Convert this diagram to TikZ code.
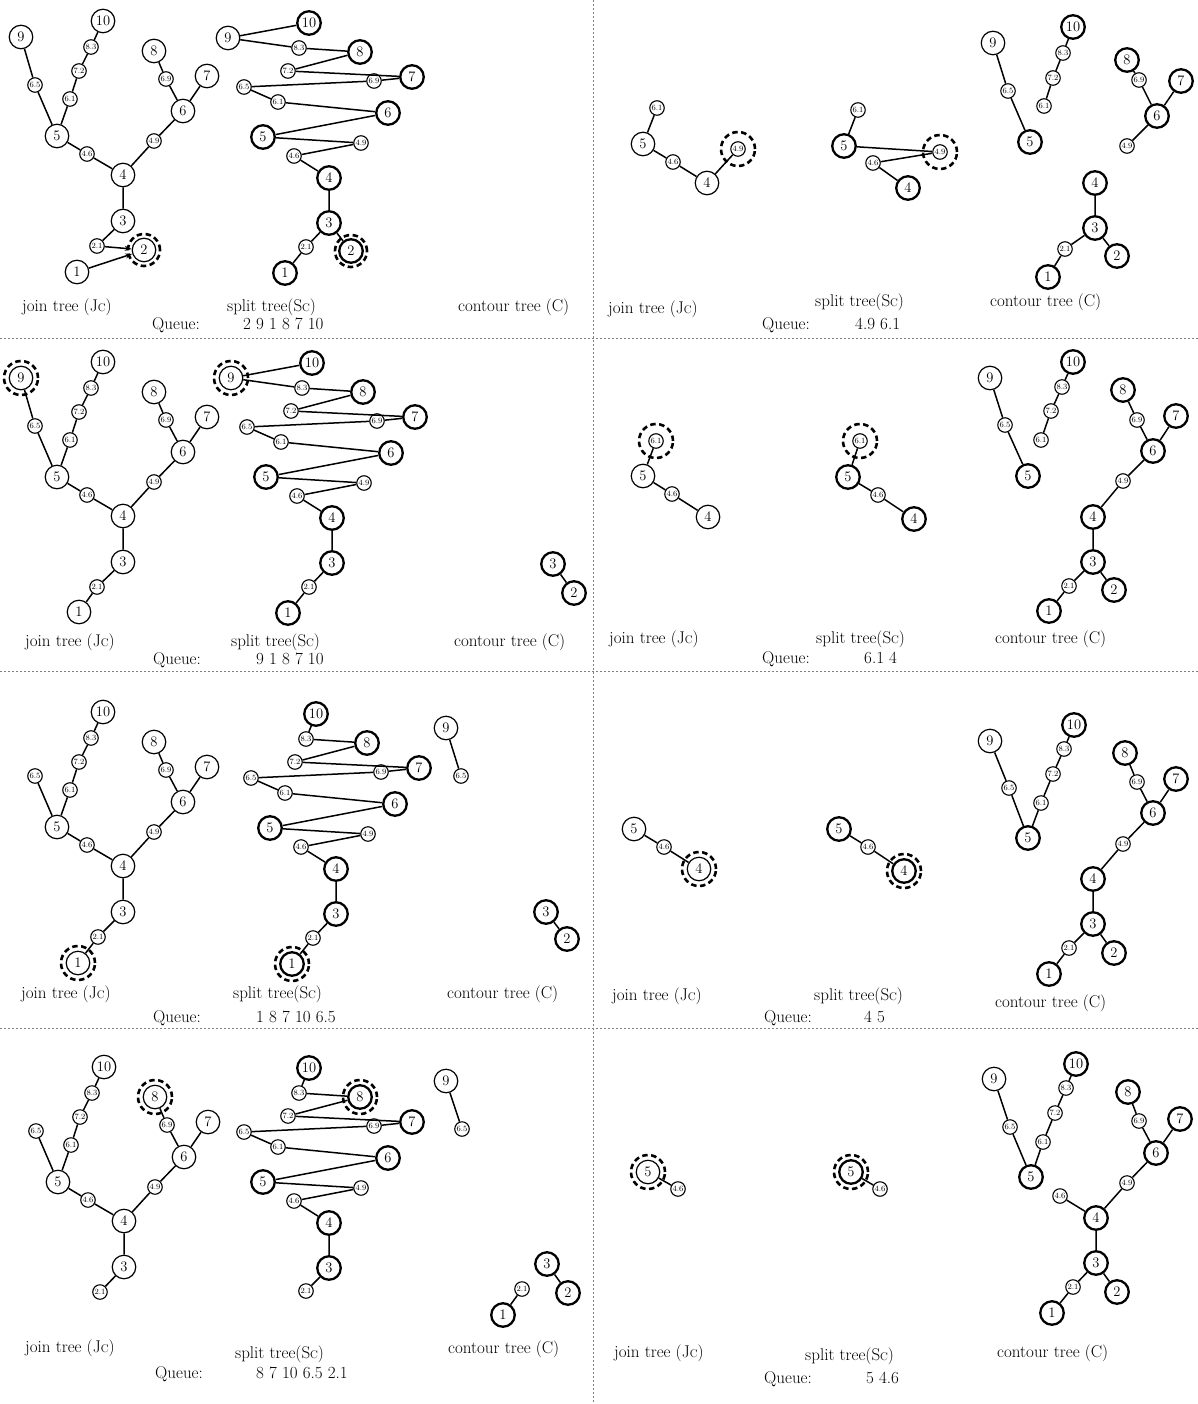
\documentclass[tikz,border=0pt]{standalone}
\usepackage{fontspec}
\usetikzlibrary{arrows.meta}
\tikzset{
 jn/.style={circle,draw,line width=1.2pt,minimum size=23.5pt,inner sep=0pt,font=\fontsize{14.5}{14.5}\selectfont},
 sn/.style={jn,line width=2.3pt},
 sm/.style={circle,draw,line width=1.1pt,minimum size=14.5pt,inner sep=0pt,font=\fontsize{8}{8}\selectfont},
 ln/.style={line width=1.5pt},
 arr/.style={-{Stealth[length=7pt,width=5pt]}},
 ring/.style={line width=2.6pt,dash pattern=on 5.5pt off 3.5pt},
 lab/.style={anchor=base west,inner sep=0pt,font=\fontsize{17}{20}\selectfont},
 sep/.style={draw=gray,line width=0.8pt,dash pattern=on 2pt off 2pt}
}
\newcommand\jcl{(J{\fontsize{11}{11}\selectfont C})}
\newcommand\scl{(S{\fontsize{11}{11}\selectfont C})}
\begin{document}
\begin{tikzpicture}[x=1pt,y=-1pt]
\useasboundingbox (0,0) rectangle (1198,1404);
\fill[white] (0,0) rectangle (1198,1404);
% separators
\draw[sep] (593,0) -- (593,1404);
\draw[sep] (0,338) -- (1198,338);
\draw[sep] (0,671) -- (1198,671);
\draw[sep] (0,1028) -- (1198,1028);

%================ L1 =================
\node[jn] (a9) at (21,37) {9};
\node[jn] (a10) at (103,21) {10};
\node[sm] (a83) at (91,47) {8.3};
\node[sm] (a72) at (79,71) {7.2};
\node[sm] (a65) at (35,85) {6.5};
\node[sm] (a61) at (70,99) {6.1};
\node[jn] (a8) at (154,51) {8};
\node[sm] (a69) at (166,79) {6.9};
\node[jn] (a7) at (207,76) {7};
\node[jn] (a6) at (183,111) {6};
\node[jn] (a5) at (57,136) {5};
\node[sm] (a46) at (87,154) {4.6};
\node[sm] (a49) at (154,141) {4.9};
\node[jn] (a4) at (123,175) {4};
\node[jn] (a3) at (123,221) {3};
\node[sm] (a21) at (97,246) {2.1};
\node[jn] (a2) at (144,250) {2};
\node[jn] (a1) at (77,272) {1};
\draw[ln] (a9)--(a65)--(a5) (a10)--(a83)--(a72)--(a61)--(a5) (a8)--(a69)--(a6) (a7)--(a6)--(a49)--(a4) (a5)--(a46)--(a4) (a4)--(a3)--(a21);
\draw[ln,arr] (a21)--(a2);
\draw[ln,arr] (a1)--(a2);
\draw[ring] (a2) circle[radius=16pt];

\node[sn] (b10) at (309,23) {10};
\node[jn] (b9) at (228,38) {9};
\node[sm] (b83) at (299,48) {8.3};
\node[sn] (b8) at (360,52) {8};
\node[sm] (b72) at (288,71) {7.2};
\node[sn] (b7) at (412,77) {7};
\node[sm] (b69) at (374,81) {6.9};
\node[sm] (b65) at (244,87) {6.5};
\node[sm] (b61) at (278,102) {6.1};
\node[sn] (b6) at (388,113) {6};
\node[sn] (b5) at (263,137) {5};
\node[sm] (b49) at (361,143) {4.9};
\node[sm] (b46) at (294,156) {4.6};
\node[sn] (b4) at (329,178) {4};
\node[sn] (b3) at (329,223) {3};
\node[sm] (b21) at (306,247) {2.1};
\node[sn] (b2) at (351,251) {2};
\node[sn] (b1) at (285,273) {1};
\draw[ln] (b9)--(b10) (b9)--(b83)--(b8)--(b72)--(b7)--(b69)--(b65)--(b61)--(b6)--(b5)--(b49)--(b46)--(b4)--(b3)--(b21)--(b1) (b3)--(b2);
\draw[ring] (b2) circle[radius=16pt];

\node[lab] (l1j) at (22,312) {join tree \jcl};
\node[lab] (l1s) at (227,312) {split tree\scl};
\node[lab] (l1c) at (458,312) {contour tree (C)};
\node[lab] (l1q) at (152,330) {Queue:};
\node[lab] (l1v) at (243,330) {2 9 1 8 7 10};

%================ L2 =================
\begin{scope}[yshift=-341pt]
\node[jn] (c9) at (21,37) {9};
\node[jn] (c10) at (103,21) {10};
\node[sm] (c83) at (91,47) {8.3};
\node[sm] (c72) at (79,71) {7.2};
\node[sm] (c65) at (35,85) {6.5};
\node[sm] (c61) at (70,99) {6.1};
\node[jn] (c8) at (154,51) {8};
\node[sm] (c69) at (166,79) {6.9};
\node[jn] (c7) at (207,76) {7};
\node[jn] (c6) at (183,111) {6};
\node[jn] (c5) at (57,136) {5};
\node[sm] (c46) at (87,154) {4.6};
\node[sm] (c49) at (154,141) {4.9};
\node[jn] (c4) at (123,175) {4};
\node[jn] (c3) at (123,221) {3};
\node[sm] (c21) at (97,246) {2.1};
\node[jn] (c1) at (79,271) {1};
\draw[ln] (c9)--(c65)--(c5) (c10)--(c83)--(c72)--(c61)--(c5) (c8)--(c69)--(c6) (c7)--(c6)--(c49)--(c4) (c5)--(c46)--(c4) (c4)--(c3)--(c21)--(c1);
\draw[ring] (c9) circle[radius=17pt];
\end{scope}
\begin{scope}[xshift=3pt,yshift=-340pt]
\node[sn] (d10) at (309,23) {10};
\node[jn] (d9) at (228,38) {9};
\node[sm] (d83) at (299,48) {8.3};
\node[sn] (d8) at (360,52) {8};
\node[sm] (d72) at (288,71) {7.2};
\node[sn] (d7) at (412,77) {7};
\node[sm] (d69) at (374,81) {6.9};
\node[sm] (d65) at (244,87) {6.5};
\node[sm] (d61) at (278,102) {6.1};
\node[sn] (d6) at (388,113) {6};
\node[sn] (d5) at (263,137) {5};
\node[sm] (d49) at (361,143) {4.9};
\node[sm] (d46) at (294,156) {4.6};
\node[sn] (d4) at (329,178) {4};
\node[sn] (d3) at (329,223) {3};
\node[sm] (d21) at (306,247) {2.1};
\node[sn] (d1) at (285,273) {1};
\draw[ln] (d9)--(d10) (d9)--(d83)--(d8)--(d72)--(d7)--(d69)--(d65)--(d61)--(d6)--(d5)--(d49)--(d46)--(d4)--(d3)--(d21)--(d1);
\draw[ring] (d9) circle[radius=17pt];
\end{scope}
\node[sn] (dc3) at (553,564) {3};
\node[sn] (dc2) at (574,593) {2};
\draw[ln] (dc3)--(dc2);
\node[lab] (l2j) at (25,646) {join tree \jcl};
\node[lab] (l2s) at (231,646) {split tree\scl};
\node[lab] (l2c) at (454,646) {contour tree (C)};
\node[lab] (l2q) at (153,664) {Queue:};
\node[lab] (l2v) at (256,664) {9 1 8 7 10};

%================ L3 =================
\begin{scope}[yshift=-691pt]
\node[jn] (e10) at (103,21) {10};
\node[sm] (e83) at (91,47) {8.3};
\node[sm] (e72) at (79,71) {7.2};
\node[sm] (e65) at (35,85) {6.5};
\node[sm] (e61) at (70,99) {6.1};
\node[jn] (e8) at (154,51) {8};
\node[sm] (e69) at (166,79) {6.9};
\node[jn] (e7) at (207,76) {7};
\node[jn] (e6) at (183,111) {6};
\node[jn] (e5) at (57,136) {5};
\node[sm] (e46) at (87,154) {4.6};
\node[sm] (e49) at (154,141) {4.9};
\node[jn] (e4) at (123,175) {4};
\node[jn] (e3) at (123,221) {3};
\node[sm] (e21) at (98,246) {2.1};
\node[jn] (e1) at (78,272) {1};
\draw[ln] (e65)--(e5) (e10)--(e83)--(e72)--(e61)--(e5) (e8)--(e69)--(e6) (e7)--(e6)--(e49)--(e4) (e5)--(e46)--(e4) (e4)--(e3)--(e21)--(e1);
\draw[ring] (e1) circle[radius=17pt];
\end{scope}
\begin{scope}[xshift=7pt,yshift=-691pt]
\node[sn] (f10) at (309,23) {10};
\node[sm] (f83) at (299,48) {8.3};
\node[sn] (f8) at (360,52) {8};
\node[sm] (f72) at (288,71) {7.2};
\node[sn] (f7) at (412,77) {7};
\node[sm] (f69) at (374,81) {6.9};
\node[sm] (f65) at (244,87) {6.5};
\node[sm] (f61) at (278,102) {6.1};
\node[sn] (f6) at (388,113) {6};
\node[sn] (f5) at (263,137) {5};
\node[sm] (f49) at (361,143) {4.9};
\node[sm] (f46) at (294,156) {4.6};
\node[sn] (f4) at (329,178) {4};
\node[sn] (f3) at (329,223) {3};
\node[sm] (f21) at (306,247) {2.1};
\node[sn] (f1) at (285,273) {1};
\draw[ln] (f10)--(f83)--(f8)--(f72)--(f7)--(f69)--(f65)--(f61)--(f6)--(f5)--(f49)--(f46)--(f4)--(f3)--(f21)--(f1);
\draw[ring] (f1) circle[radius=17pt];
\end{scope}
\node[jn] (fc9) at (446,728) {9};
\node[sm] (fc65) at (461,776) {6.5};
\node[sn] (fc3) at (546,912) {3};
\node[sn] (fc2) at (567,939) {2};
\draw[ln] (fc9)--(fc65) (fc3)--(fc2);
\node[lab] (l3j) at (21,998) {join tree \jcl};
\node[lab] (l3s) at (233,998) {split tree\scl};
\node[lab] (l3c) at (447,998) {contour tree (C)};
\node[lab] (l3q) at (153,1022) {Queue:};
\node[lab] (l3v) at (256,1022) {1 8 7 10 6.5};

%================ L4 =================
\begin{scope}[xshift=1pt,yshift=-1046pt]
\node[jn] (g10) at (103,21) {10};
\node[sm] (g83) at (91,47) {8.3};
\node[sm] (g72) at (79,71) {7.2};
\node[sm] (g65) at (35,85) {6.5};
\node[sm] (g61) at (70,99) {6.1};
\node[jn] (g8) at (154,51) {8};
\node[sm] (g69) at (166,79) {6.9};
\node[jn] (g7) at (207,76) {7};
\node[jn] (g6) at (183,111) {6};
\node[jn] (g5) at (57,136) {5};
\node[sm] (g46) at (87,154) {4.6};
\node[sm] (g49) at (154,141) {4.9};
\node[jn] (g4) at (123,175) {4};
\node[jn] (g3) at (123,221) {3};
\node[sm] (g21) at (99,246) {2.1};
\draw[ln] (g65)--(g5) (g10)--(g83)--(g72)--(g61)--(g5) (g8)--(g69)--(g6) (g7)--(g6)--(g49)--(g4) (g5)--(g46)--(g4) (g4)--(g3)--(g21);
\draw[ring] (g8) circle[radius=17pt];
\end{scope}
\begin{scope}[yshift=-1045pt]
\node[sn] (h10) at (309,23) {10};
\node[sm] (h83) at (299,48) {8.3};
\node[sn] (h8) at (360,52) {8};
\node[sm] (h72) at (288,71) {7.2};
\node[sn] (h7) at (412,77) {7};
\node[sm] (h69) at (374,81) {6.9};
\node[sm] (h65) at (244,87) {6.5};
\node[sm] (h61) at (278,102) {6.1};
\node[sn] (h6) at (388,113) {6};
\node[sn] (h5) at (263,137) {5};
\node[sm] (h49) at (361,143) {4.9};
\node[sm] (h46) at (294,156) {4.6};
\node[sn] (h4) at (329,178) {4};
\node[sn] (h3) at (329,223) {3};
\node[sm] (h21) at (306,246) {2.1};
\draw[ln] (h10)--(h83)--(h8)--(h72)--(h7)--(h69)--(h65)--(h61)--(h6)--(h5)--(h49)--(h46)--(h4)--(h3)--(h21);
\draw[ring] (h8) circle[radius=17pt];
\end{scope}
\node[jn] (hc9) at (446,1081) {9};
\node[sm] (hc65) at (462,1129) {6.5};
\node[sn] (hc3) at (547,1264) {3};
\node[sn] (hc2) at (568,1293) {2};
\node[sm] (hc21) at (522,1289) {2.1};
\node[sn] (hc1) at (503,1315) {1};
\draw[ln] (hc9)--(hc65) (hc3)--(hc2) (hc21)--(hc1);
\node[lab] (l4j) at (25,1352) {join tree \jcl};
\node[lab] (l4s) at (235,1358) {split tree\scl};
\node[lab] (l4c) at (448,1353) {contour tree (C)};
\node[lab] (l4q) at (155,1378) {Queue:};
\node[lab] (l4v) at (256,1378) {8 7 10 6.5 2.1};

%================ R1 =================
\node[sm] (p61) at (657,108) {6.1};
\node[jn] (p5) at (643,144) {5};
\node[sm] (p46) at (673,162) {4.6};
\node[jn] (p4) at (707,183) {4};
\node[sm] (p49) at (738,149) {4.9};
\draw[ln] (p61)--(p5)--(p46)--(p4)--(p49);
\draw[ring] (p49) circle[radius=17pt];

\node[sm] (q61) at (858,110) {6.1};
\node[sn] (q5) at (844,146) {5};
\node[sm] (q46) at (873,163) {4.6};
\node[sn] (q4) at (908,188) {4};
\node[sm] (q49) at (940,152) {4.9};
\draw[ln] (q61)--(q5)--(q49)--(q46)--(q4);
\draw[ring] (q49) circle[radius=17pt];

\node[jn] (qc9) at (993,43) {9};
\node[sm] (qc65) at (1008,91) {6.5};
\node[sn] (qc5) at (1030,142) {5};
\node[sn] (qc10) at (1073,27) {10};
\node[sm] (qc83) at (1063,53) {8.3};
\node[sm] (qc72) at (1053,78) {7.2};
\node[sm] (qc61) at (1044,106) {6.1};
\node[sn] (qc8) at (1127,60) {8};
\node[sm] (qc69) at (1139,80) {6.9};
\node[sn] (qc7) at (1181,81) {7};
\node[sn] (qc6) at (1157,116) {6};
\node[sm] (qc49) at (1127,146) {4.9};
\node[sn] (qc4) at (1095,183) {4};
\node[sn] (qc3) at (1095,228) {3};
\node[sm] (qc21) at (1065,249) {2.1};
\node[sn] (qc2) at (1117,256) {2};
\node[sn] (qc1) at (1048,277) {1};
\draw[ln] (qc9)--(qc65)--(qc5) (qc10)--(qc83)--(qc72)--(qc61) (qc8)--(qc69)--(qc6) (qc7)--(qc6)--(qc49) (qc4)--(qc3)--(qc21)--(qc1) (qc3)--(qc2);
\node[lab] (r1j) at (608,313) {join tree \jcl};
\node[lab] (r1s) at (815,307) {split tree\scl};
\node[lab] (r1c) at (990,307) {contour tree (C)};
\node[lab] (r1q) at (762,330) {Queue:};
\node[lab] (r1v) at (855,330) {4.9 6.1};

%================ R2 =================
\node[sm] (r61) at (656,441) {6.1};
\node[jn] (r5) at (643,476) {5};
\node[sm] (r46) at (672,494) {4.6};
\node[jn] (r4) at (708,517) {4};
\draw[ln] (r61)--(r5)--(r46)--(r4);
\draw[ring] (r61) circle[radius=17pt];

\node[sm] (s61) at (860,441) {6.1};
\node[sn] (s5) at (848,477) {5};
\node[sm] (s46) at (878,495) {4.6};
\node[sn] (s4) at (914,519) {4};
\draw[ln] (s61)--(s5)--(s46)--(s4);
\draw[ring] (s61) circle[radius=17pt];

\node[jn] (sc9) at (990,378) {9};
\node[sm] (sc65) at (1005,425) {6.5};
\node[sn] (sc5) at (1028,476) {5};
\node[sn] (sc10) at (1073,362) {10};
\node[sm] (sc83) at (1062,387) {8.3};
\node[sm] (sc72) at (1051,411) {7.2};
\node[sm] (sc61) at (1041,440) {6.1};
\node[sn] (sc8) at (1123,390) {8};
\node[sm] (sc69) at (1137,420) {6.9};
\node[sn] (sc7) at (1176,416) {7};
\node[sn] (sc6) at (1153,451) {6};
\node[sm] (sc49) at (1123,481) {4.9};
\node[sn] (sc4) at (1093,517) {4};
\node[sn] (sc3) at (1093,562) {3};
\node[sm] (sc21) at (1069,586) {2.1};
\node[sn] (sc2) at (1114,590) {2};
\node[sn] (sc1) at (1049,611) {1};
\draw[ln] (sc9)--(sc65)--(sc5) (sc10)--(sc83)--(sc72)--(sc61) (sc8)--(sc69)--(sc6) (sc7)--(sc6)--(sc49)--(sc4) (sc4)--(sc3)--(sc21)--(sc1) (sc3)--(sc2);
\node[lab] (r2j) at (609,643) {join tree \jcl};
\node[lab] (r2s) at (816,643) {split tree\scl};
\node[lab] (r2c) at (995,643) {contour tree (C)};
\node[lab] (r2q) at (762,663) {Queue:};
\node[lab] (r2v) at (864,663) {6.1 4};

%================ R3 =================
\node[jn] (t5) at (634,829) {5};
\node[sm] (t46) at (664,847) {4.6};
\node[jn] (t4) at (699,869) {4};
\draw[ln] (t5)--(t46)--(t4);
\draw[ring] (t4) circle[radius=17pt];

\node[sn] (u5) at (839,829) {5};
\node[sm] (u46) at (868,847) {4.6};
\node[sn] (u4) at (904,871) {4};
\draw[ln] (u5)--(u46)--(u4);
\draw[ring] (u4) circle[radius=17pt];

\node[jn] (uc9) at (990,741) {9};
\node[sm] (uc65) at (1009,788) {6.5};
\node[sn] (uc5) at (1028,838) {5};
\node[sm] (uc61) at (1041,803) {6.1};
\node[sm] (uc72) at (1053,774) {7.2};
\node[sm] (uc83) at (1064,749) {8.3};
\node[sn] (uc10) at (1074,725) {10};
\node[sn] (uc8) at (1125,753) {8};
\node[sm] (uc69) at (1137,782) {6.9};
\node[sn] (uc7) at (1176,779) {7};
\node[sn] (uc6) at (1153,813) {6};
\node[sm] (uc49) at (1123,844) {4.9};
\node[sn] (uc4) at (1093,879) {4};
\node[sn] (uc3) at (1093,924) {3};
\node[sm] (uc21) at (1069,948) {2.1};
\node[sn] (uc2) at (1114,953) {2};
\node[sn] (uc1) at (1049,974) {1};
\draw[ln] (uc9)--(uc65)--(uc5) (uc10)--(uc83)--(uc72)--(uc61)--(uc5) (uc8)--(uc69)--(uc6) (uc7)--(uc6)--(uc49)--(uc4) (uc4)--(uc3)--(uc21)--(uc1) (uc3)--(uc2);
\node[lab] (r3j) at (612,1000) {join tree \jcl};
\node[lab] (r3s) at (814,1000) {split tree\scl};
\node[lab] (r3c) at (995,1007) {contour tree (C)};
\node[lab] (r3q) at (764,1022) {Queue:};
\node[lab] (r3v) at (864,1022) {4 5};

%================ R4 =================
\node[jn] (v5) at (648,1172) {5};
\node[sm] (v46) at (678,1189) {4.6};
\draw[ln] (v5)--(v46);
\draw[ring] (v5) circle[radius=17pt];

\node[sn] (w5) at (851,1172) {5};
\node[sm] (w46) at (880,1189) {4.6};
\draw[ln] (w5)--(w46);
\draw[ring] (w5) circle[radius=17pt];

\node[jn] (wc9) at (994,1079) {9};
\node[sm] (wc65) at (1010,1127) {6.5};
\node[sn] (wc5) at (1031,1177) {5};
\node[sm] (wc61) at (1043,1142) {6.1};
\node[sm] (wc72) at (1055,1113) {7.2};
\node[sm] (wc83) at (1066,1088) {8.3};
\node[sn] (wc10) at (1076,1064) {10};
\node[sn] (wc8) at (1128,1092) {8};
\node[sm] (wc69) at (1139,1121) {6.9};
\node[sn] (wc7) at (1180,1119) {7};
\node[sn] (wc6) at (1156,1153) {6};
\node[sm] (wc49) at (1127,1183) {4.9};
\node[sm] (wc46) at (1060,1196) {4.6};
\node[sn] (wc4) at (1096,1218) {4};
\node[sn] (wc3) at (1096,1263) {3};
\node[sm] (wc21) at (1073,1287) {2.1};
\node[sn] (wc2) at (1117,1292) {2};
\node[sn] (wc1) at (1052,1313) {1};
\draw[ln] (wc9)--(wc65)--(wc5) (wc10)--(wc83)--(wc72)--(wc61)--(wc5) (wc8)--(wc69)--(wc6) (wc7)--(wc6)--(wc49)--(wc4) (wc46)--(wc4) (wc4)--(wc3)--(wc21)--(wc1) (wc3)--(wc2);
\node[lab] (r4j) at (614,1357) {join tree \jcl};
\node[lab] (r4s) at (805,1360) {split tree\scl};
\node[lab] (r4c) at (997,1357) {contour tree (C)};
\node[lab] (r4q) at (764,1383) {Queue:};
\node[lab] (r4v) at (866,1383) {5 4.6};
\end{tikzpicture}
\end{document}
